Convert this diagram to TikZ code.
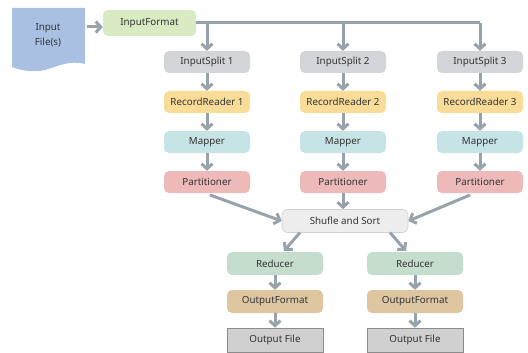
\documentclass[tikz,border=0pt]{standalone}
\usepackage{fontspec}
\setmainfont{Noto Sans}
\usetikzlibrary{arrows.meta}
\definecolor{arrgray}{HTML}{98A2AB}
\definecolor{docblue}{HTML}{A9C0E2}
\definecolor{ifgreen}{HTML}{D8EBC2}
\definecolor{isgray}{HTML}{D3D5D9}
\definecolor{rryellow}{HTML}{F8DC98}
\definecolor{mpteal}{HTML}{C6E3E6}
\definecolor{ptpink}{HTML}{EEB9B9}
\definecolor{ssgray}{HTML}{EDEDED}
\definecolor{rdgreen}{HTML}{C4DDCD}
\definecolor{oftan}{HTML}{DDC6A0}
\definecolor{ofgray}{HTML}{D0D0D1}
\definecolor{txt}{HTML}{333333}
\begin{document}
\begin{tikzpicture}[x=1pt,y=-1pt,
  box/.style={rounded corners=5pt,minimum width=86pt,minimum height=22pt,inner sep=0pt,font=\fontsize{9.8}{11}\selectfont,text=txt},
  arr/.style={draw=arrgray,line width=3pt,-{Straight Barb[length=5pt,width=11pt]}},
  ln/.style={draw=arrgray,line width=3pt}]
\useasboundingbox (0,0) rectangle (528,353);
% document shape
\fill[docblue] (12,8) -- (85,8) -- (85,64) .. controls (70,60) and (58,66) .. (45,70) .. controls (32,73) and (20,70) .. (12,67) -- cycle;
\node[font=\fontsize{9.8}{15}\selectfont,text=txt,align=center] (doc) at (48,35) {Input\\File(s)};
\coordinate (docr) at (87,27);
\node[box,fill=ifgreen,minimum width=93pt,minimum height=26pt] (if) at (149.5,23) {InputFormat};
\draw[arr] (docr) -- (if.west|-docr);
% columns
\foreach \i/\x in {1/207,2/343,3/480}{
  \node[box,fill=isgray] (is\i) at (\x,62) {InputSplit \i};
  \node[box,fill=rryellow] (rr\i) at (\x,102) {RecordReader \i};
  \node[box,fill=mpteal] (mp\i) at (\x,142) {Mapper};
  \node[box,fill=ptpink] (pt\i) at (\x,182) {Partitioner};
  \coordinate (b\i) at (\x,23);
  \draw[arr] (b\i) -- (is\i.north);
  \draw[arr] (is\i) -- (rr\i);
  \draw[arr] (rr\i) -- (mp\i);
  \draw[arr] (mp\i) -- (pt\i);
}
\draw[ln] (if.east|-b1) -- (b3);
\node[box,fill=ssgray,draw=black!18,line width=0.6pt,minimum width=126pt,minimum height=23pt] (ss) at (345,221) {Shufle and Sort};
\draw[arr] (210,195) -- (ss.west);
\draw[arr] (pt2) -- (ss.north-|pt2);
\draw[arr] (470,195) -- (ss.east);
\foreach \i/\x in {1/275,2/415}{
  \node[box,fill=rdgreen,minimum width=96pt,minimum height=23pt] (rd\i) at (\x,263.5) {Reducer};
  \node[box,fill=oftan,minimum width=96pt,minimum height=23pt] (of\i) at (\x,301.5) {OutputFormat};
  \node[box,rounded corners=0pt,fill=ofgray,draw=black!45,line width=0.6pt,minimum width=96pt,minimum height=24pt] (ofl\i) at (\x,340) {Output File};
  \draw[arr] (rd\i) -- (of\i);
  \draw[arr] (of\i) -- (ofl\i);
}
\draw[arr] (300,232.5) -- (284,251);
\draw[arr] (390,232.5) -- (406,251);
\end{tikzpicture}
\end{document}
